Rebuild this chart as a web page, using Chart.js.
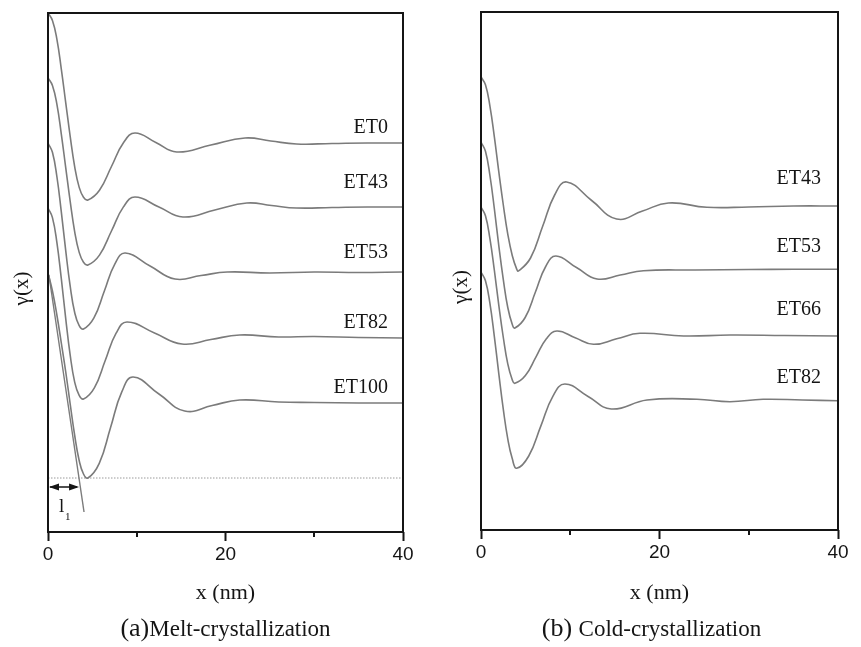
<!DOCTYPE html>
<html><head><meta charset="utf-8">
<script src="https://cdn.jsdelivr.net/npm/chart.js@4.4.1/dist/chart.umd.min.js"></script>
<style>
html,body{margin:0;padding:0;background:#fff;}
#wrap{position:relative;width:861px;height:647px;overflow:hidden;background:#fff;}
canvas{position:absolute;top:0;}
#ca{left:0;} #cb{left:430px;}
</style></head><body>
<div id="wrap"><canvas id="ca" width="430" height="647"></canvas><canvas id="cb" width="431" height="647"></canvas></div>
<script>
// ---------- x tick labels ----------
const xTickLabels = [0, 20, 40];

// ---------- Panel (a) Melt-crystallization: γ(x) curves (offset, arbitrary units) ----------
const aNames = ['ET0', 'ET43', 'ET53', 'ET82', 'ET100'];
const aET0_x   = [0,0.5,1,1.5,2,2.5,3,3.5,4,4.5,5.8,7.15,8.5,9.8,12.15,14.5,18.35,22.2,25.1,28,32,36,40];
const aET0_y   = [5.19,5.115,4.928,4.629,4.292,3.956,3.657,3.451,3.348,3.32,3.418,3.655,3.892,3.99,3.895,3.80,3.87,3.94,3.91,3.88,3.885,3.89,3.89];
const aET43_x  = [0,0.5,1,1.5,2,2.5,3,3.5,4,4.5,5.8,7.15,8.5,9.8,12.5,15.2,18.8,22.4,25.2,28,32,36,40];
const aET43_y  = [4.54,4.465,4.278,3.979,3.642,3.306,3.007,2.801,2.698,2.67,2.769,3.01,3.251,3.35,3.25,3.15,3.22,3.29,3.265,3.24,3.245,3.25,3.25];
const aET53_x  = [0,0.5,1,1.5,2,2.5,3,3.5,4,5.175,6.35,7.525,8.7,11.5,14.3,17.25,20.2,25,30,35,40];
const aET53_y  = [3.89,3.797,3.555,3.202,2.811,2.458,2.197,2.067,2.03,2.141,2.41,2.679,2.79,2.66,2.53,2.565,2.60,2.59,2.60,2.595,2.60];
const aET82_x  = [0,0.5,1,1.5,2,2.5,3,3.5,4,5.225,6.45,7.675,8.9,12,15.1,18.35,21.6,26,30,35,40];
const aET82_y  = [3.24,3.144,2.896,2.533,2.132,1.769,1.502,1.368,1.33,1.442,1.715,1.988,2.10,1.99,1.88,1.925,1.97,1.95,1.955,1.945,1.94];
const aET100_x = [0,0.5,1,1.5,2,2.5,3,3.5,4,4.5,5.775,7.05,8.325,9.6,12.5,15.4,18.5,21.6,26,30,35,40];
const aET100_y = [2.59,2.41,2.17,1.89,1.60,1.28,0.97,0.72,0.58,0.54,0.687,1.045,1.403,1.55,1.38,1.21,1.265,1.32,1.30,1.295,1.29,1.29];
const aLabelY  = [4.04, 3.49, 2.79, 2.09, 1.44];
// tangent construction for l1 on ET100
const tangentX = [0.1, 4.06];
const tangentY = [2.57, 0.20];
const baselineY = 0.54;   // minimum of ET100 (dotted line)
const l1Value = 3.5;      // nm

// ---------- Panel (b) Cold-crystallization ----------
const bNames = ['ET43', 'ET53', 'ET66', 'ET82'];
const bET43_x = [0,0.5,1,1.5,2,2.5,3,3.5,4,4.2,5.55,6.9,8.25,9.6,12.4,15.2,18.1,21,25.3,30,35,40];
const bET43_y = [4.53,4.452,4.239,3.929,3.579,3.25,2.959,2.745,2.609,2.59,2.72,3.035,3.35,3.48,3.295,3.11,3.19,3.27,3.227,3.23,3.24,3.24];
const bET53_x = [0,0.5,1,1.5,2,2.5,3,3.5,3.8,4.95,6.1,7.25,8.4,10.7,13,15.6,18.2,24,30,35,40];
const bET53_y = [3.88,3.787,3.545,3.21,2.838,2.504,2.225,2.057,2.02,2.125,2.38,2.635,2.74,2.625,2.51,2.55,2.593,2.60,2.605,2.607,2.607];
const bET66_x = [0,0.5,1,1.5,2,2.5,3,3.5,3.8,4.975,6.15,7.325,8.5,10.55,12.6,15.2,17.8,22.7,27.9,34,40];
const bET66_y = [3.23,3.142,2.913,2.595,2.243,1.925,1.661,1.502,1.467,1.544,1.729,1.913,1.99,1.923,1.857,1.912,1.967,1.94,1.95,1.945,1.94];
const bET82_x = [0,0.5,1,1.5,2,2.5,3,3.5,4,5.35,6.7,8.05,9.4,12,14.6,18.6,24.2,27.9,31.6,36,40];
const bET82_y = [2.58,2.492,2.266,1.932,1.559,1.206,0.911,0.715,0.617,0.74,1.039,1.337,1.46,1.335,1.21,1.30,1.307,1.283,1.307,1.30,1.293];
const bLabelY = [3.51, 2.83, 2.20, 1.52];

// ---------- helpers ----------
const SERIF = '"Liberation Serif", "Times New Roman", serif';
const SANS = '"Liberation Sans", Arial, sans-serif';
const CURVE = '#7b7b7b';
const INK = '#151515';

function pts(xs, ys) { return xs.map((x, i) => ({x: x, y: ys[i]})); }
function curve(xs, ys) {
  return { data: pts(xs, ys), borderColor: CURVE, borderWidth: 1.6, pointRadius: 0,
           tension: 0.45, fill: false };
}

function decorPlugin(cfg) {
  return {
    id: 'decor',
    afterDatasetsDraw(chart) {
      const ctx = chart.ctx, a = chart.chartArea;
      const xs = chart.scales.x, ys = chart.scales.y;
      ctx.save();
      // frame
      ctx.strokeStyle = INK; ctx.lineWidth = 2;
      ctx.strokeRect(a.left, a.top, a.right - a.left, a.bottom - a.top);
      // minor ticks
      [10, 30].forEach(v => {
        const px = Math.round(xs.getPixelForValue(v));
        ctx.beginPath(); ctx.moveTo(px, a.bottom); ctx.lineTo(px, a.bottom + 5); ctx.stroke();
      });
      // series labels
      ctx.fillStyle = INK;
      ctx.font = '20px ' + SERIF;
      ctx.textAlign = 'right'; ctx.textBaseline = 'middle';
      cfg.names.forEach((n, i) => {
        ctx.fillText(n, xs.getPixelForValue(cfg.labelX), ys.getPixelForValue(cfg.labelY[i]));
      });
      // y axis title
      ctx.save();
      ctx.translate(a.left + cfg.yTitleDx, (a.top + a.bottom) / 2 + 16);
      ctx.rotate(-Math.PI / 2);
      ctx.textAlign = 'center'; ctx.textBaseline = 'middle';
      ctx.font = '21px ' + SERIF;
      ctx.fillText('γ(x)', 0, 0);
      ctx.restore();
      // subtitle: larger panel letter + caption
      ctx.textBaseline = 'alphabetic'; ctx.textAlign = 'left';
      const f1 = '26px ' + SERIF, f2 = '23px ' + SERIF;
      ctx.font = f1; const w1 = ctx.measureText(cfg.subPrefix).width;
      ctx.font = f2; const w2 = ctx.measureText(cfg.subText).width;
      let sx = (a.left + a.right) / 2 + cfg.subDx - (w1 + w2) / 2;
      ctx.font = f1; ctx.fillText(cfg.subPrefix, sx, 636);
      ctx.font = f2; ctx.fillText(cfg.subText, sx + w1, 636);
      // l1 construction
      if (cfg.l1) {
        const y = ys.getPixelForValue(baselineY) + 9;
        const x0 = xs.getPixelForValue(0), x1 = xs.getPixelForValue(l1Value);
        ctx.strokeStyle = INK; ctx.fillStyle = INK; ctx.lineWidth = 1.5;
        ctx.beginPath(); ctx.moveTo(x0 + 2, y); ctx.lineTo(x1 - 2, y); ctx.stroke();
        ctx.beginPath(); ctx.moveTo(x0 + 1, y); ctx.lineTo(x0 + 11, y - 3.5); ctx.lineTo(x0 + 11, y + 3.5); ctx.closePath(); ctx.fill();
        ctx.beginPath(); ctx.moveTo(x1, y); ctx.lineTo(x1 - 10, y - 3.5); ctx.lineTo(x1 - 10, y + 3.5); ctx.closePath(); ctx.fill();
        ctx.textAlign = 'center'; ctx.textBaseline = 'alphabetic';
        ctx.font = '19px ' + SERIF;
        const lx = xs.getPixelForValue(1.55);
        ctx.fillText('l', lx, y + 25);
        ctx.font = '11px ' + SERIF;
        ctx.fillText('1', lx + 6, y + 33);
      }
      ctx.restore();
    }
  };
}

function makeChart(id, datasets, pad, yMax, xHeight, cfg) {
  return new Chart(document.getElementById(id), {
    type: 'line',
    data: { datasets: datasets },
    options: {
      responsive: false, animation: false, devicePixelRatio: 1,
      layout: { padding: pad },
      plugins: { legend: { display: false }, tooltip: { enabled: false } },
      scales: {
        x: {
          type: 'linear', min: 0, max: 40,
          afterFit(s) { s.height = xHeight; },
          border: { display: false },
          grid: { display: true, drawOnChartArea: false, drawTicks: true, tickLength: 9, tickWidth: 2,
                  tickColor: (c) => (c.tick && xTickLabels.includes(c.tick.value)) ? INK : 'rgba(0,0,0,0)' },
          ticks: { stepSize: 10, autoSkip: false, maxRotation: 0, padding: 2, color: INK,
                   font: { family: SANS, size: 19 },
                   callback: (v) => xTickLabels.includes(v) ? String(v) : '' },
          title: { display: true, text: 'x (nm)', color: INK, font: { family: SERIF, size: 22 },
                   padding: { top: 0, bottom: 41 } }
        },
        y: { type: 'linear', display: false, min: 0, max: yMax }
      }
    },
    plugins: [decorPlugin(cfg)]
  });
}

const aSets = [
  curve(aET0_x, aET0_y), curve(aET43_x, aET43_y), curve(aET53_x, aET53_y),
  curve(aET82_x, aET82_y), curve(aET100_x, aET100_y),
  { data: pts(tangentX, tangentY), borderColor: CURVE, borderWidth: 1.4, pointRadius: 0, tension: 0 },
  { data: pts([0, 40], [baselineY, baselineY]), borderColor: '#9a9a9a', borderWidth: 1, borderDash: [1.5, 1.5], pointRadius: 0, tension: 0 }
];
makeChart('ca', aSets, { left: 48, right: 27, top: 13, bottom: 0 }, 5.19, 115,
  { names: aNames, labelY: aLabelY, labelX: 38.3, yTitleDx: -26, subPrefix: '(a)', subText: 'Melt-crystallization', subDx: 0, l1: true });

const bSets = [
  curve(bET43_x, bET43_y), curve(bET53_x, bET53_y), curve(bET66_x, bET66_y), curve(bET82_x, bET82_y)
];
makeChart('cb', bSets, { left: 51, right: 23, top: 12, bottom: 0 }, 5.18, 117,
  { names: bNames, labelY: bLabelY, labelX: 38.1, yTitleDx: -20, subPrefix: '(b) ', subText: 'Cold-crystallization', subDx: -8, l1: false });
</script>
</body></html>
